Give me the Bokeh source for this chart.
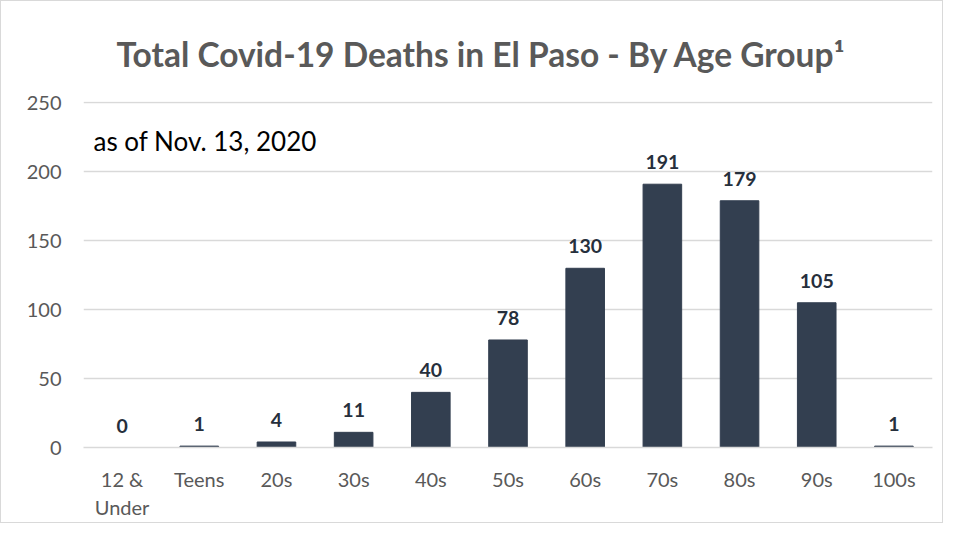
from bokeh.plotting import figure
from bokeh.models import ColumnDataSource, Label, FactorRange, Range1d
from bokeh.core.properties import value
from bokeh.embed import file_html
from bokeh.resources import INLINE

age_groups = ["12 &\nUnder", "Teens", "20s", "30s", "40s", "50s", "60s", "70s", "80s", "90s", "100s"]
deaths = [0, 1, 4, 11, 40, 78, 130, 191, 179, 105, 1]
y_ticks = [0, 50, 100, 150, 200, 250]
title_text = "Total Covid-19 Deaths in El Paso - By Age Group\u00b9"
note_text = "as of Nov. 13, 2020"

FONT = "Lato"
BAR = "#333f50"

src = ColumnDataSource(dict(x=age_groups, y=deaths, lbl=[str(v) for v in deaths]))

p = figure(x_range=FactorRange(*age_groups), y_range=Range1d(0, 251),
           width=943, height=523, output_backend="svg", toolbar_location=None,
           min_border_left=82, min_border_right=12, min_border_top=100, min_border_bottom=77)

p.title.text = title_text
p.title.align = "left"
p.title.offset = 33
p.title.text_font = FONT
p.title.text_font_style = "bold"
p.title.text_font_size = "33.5px"
p.title.text_color = "#595959"
p.title.standoff = 56

p.vbar(x="x", top="y", width=0.5, source=src, color=BAR)
p.text(x="x", y="y", text="lbl", source=src, text_align="center", text_baseline="bottom",
       y_offset=-15, text_font=value(FONT), text_font_style="bold", text_font_size="19.5px",
       text_color="#262f3c")

p.add_layout(Label(x=0.13, y=222, text=note_text, text_font=FONT, text_font_size="26px",
                   text_color="#000000", text_baseline="middle", text_align="left"))

p.outline_line_color = None
p.xgrid.grid_line_color = None
p.ygrid.grid_line_color = "#d9d9d9"
p.ygrid.grid_line_width = 1.3
p.yaxis.ticker = y_ticks

for ax in (p.xaxis, p.yaxis):
    ax.major_tick_line_color = None
    ax.minor_tick_line_color = None
    ax.major_label_text_font = FONT
    ax.major_label_text_font_size = "20px"
    ax.major_label_text_color = "#595959"
p.yaxis.axis_line_color = None
p.yaxis.major_label_standoff = 16
p.xaxis.axis_line_color = "#d9d9d9"
p.xaxis.axis_line_width = 1.3
p.xaxis.major_label_standoff = 13
p.xaxis.group_text_font_size = "1px"

p.styles = {"border": "1px solid #d9d9d9"}

open("out.html", "w").write(file_html(p, INLINE))
